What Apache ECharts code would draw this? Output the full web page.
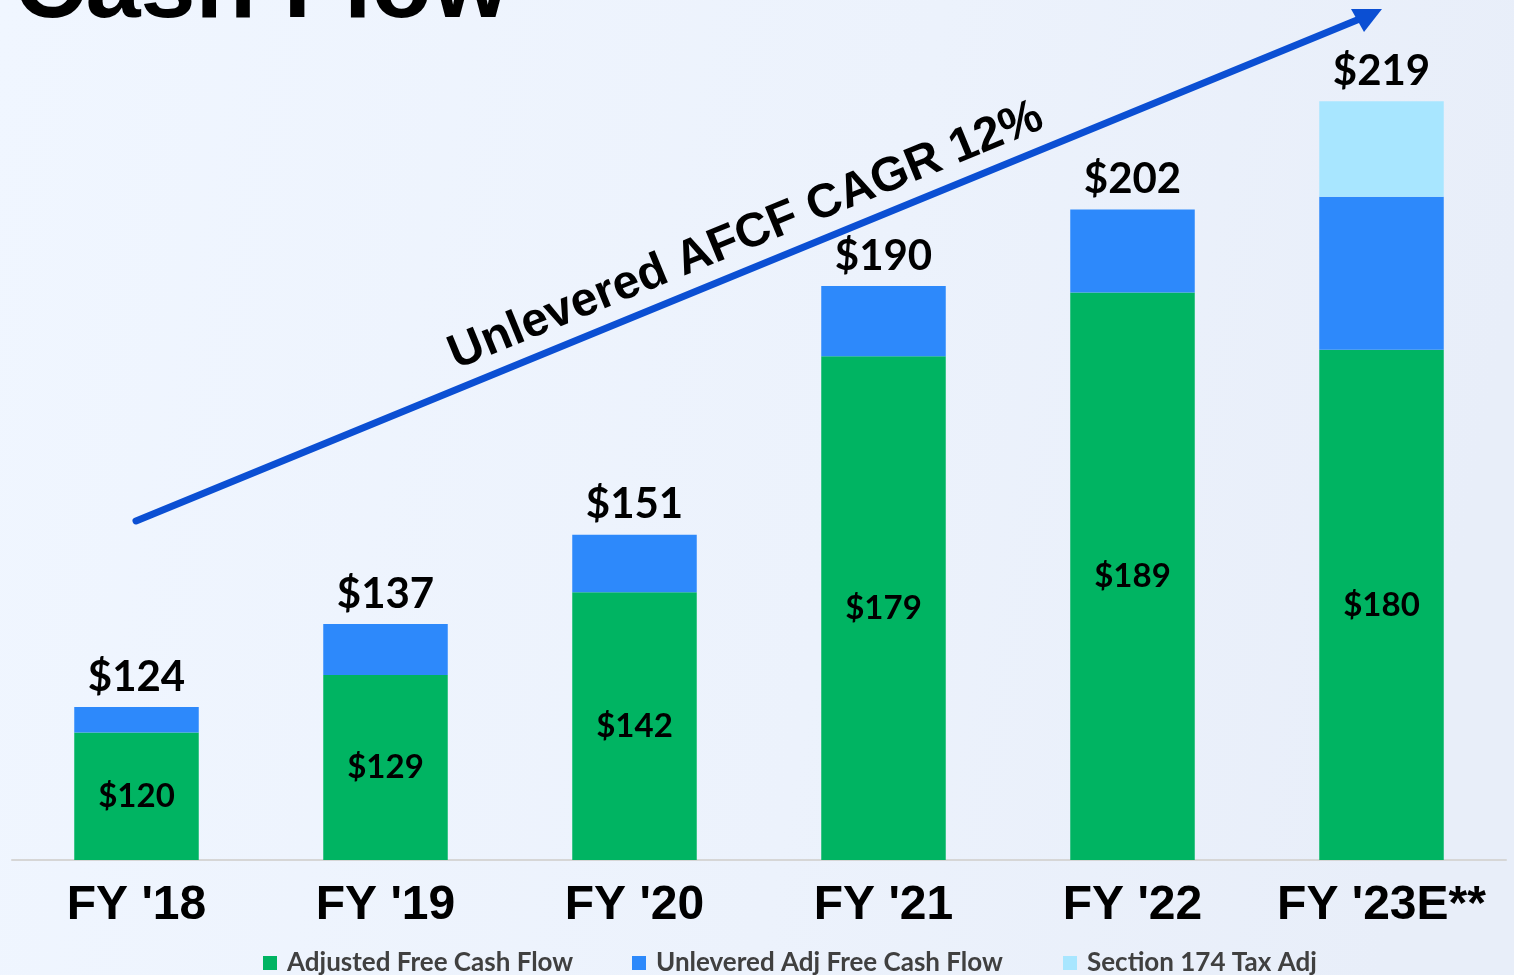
<!DOCTYPE html>
<html>
<head>
<meta charset="utf-8">
<script src="https://cdn.jsdelivr.net/npm/echarts@6/dist/echarts.min.js"></script>
<style>
html,body{margin:0;padding:0;}
#c{width:1514px;height:975px;}
</style>
</head>
<body>
<div id="c"></div>
<script>
const categories = ["FY '18", "FY '19", "FY '20", "FY '21", "FY '22", "FY '23E**"];
const adjustedFCF = [120, 129, 142, 179, 189, 180];
const unleveredIncrement = [4, 8, 9, 11, 13, 24];
const section174 = [0, 0, 0, 0, 0, 15];
const totals = [124, 137, 151, 190, 202, 219];
const seriesNames = ["Adjusted Free Cash Flow", "Unlevered Adj Free Cash Flow", "Section 174 Tax Adj"];

const chart = echarts.init(document.getElementById('c'));
const labelFont = 'Lato, "Open Sans", sans-serif';
const legendBase = {
  icon: 'rect', itemWidth: 14, itemHeight: 14, top: 950, padding: 0,
  textStyle: {fontFamily: labelFont, fontSize: 26, fontWeight: 'bold', color: '#404040', padding: [0,0,0,5]}
};
chart.setOption({
  backgroundColor: {
    type: 'linear', x: 0, y: 0, x2: 1, y2: 0.3,
    colorStops: [{offset: 0, color: '#F0F6FF'}, {offset: 0.6, color: '#ECF2FC'}, {offset: 1, color: '#E8EEF9'}]
  },
  animation: false,
  grid: {left: 12, right: 8, top: 31, bottom: 115, containLabel: false},
  xAxis: {
    type: 'category', data: categories,
    axisLine: {lineStyle: {color: '#D6D6D6', width: 2}},
    axisTick: {show: false},
    axisLabel: {interval: 0, fontFamily: '"Liberation Sans", Arial, sans-serif', fontWeight: 'bold', fontSize: 48, color: '#000', margin: 22}
  },
  yAxis: {type: 'value', min: 100, max: 230, show: false, splitLine: {show: false}},
  legend: [
    Object.assign({}, legendBase, {left: 263, data: [seriesNames[0]]}),
    Object.assign({}, legendBase, {left: 632, data: [seriesNames[1]]}),
    Object.assign({}, legendBase, {left: 1063, data: [seriesNames[2]]})
  ],
  series: [
    {
      name: seriesNames[0], type: 'bar', stack: 'a', data: adjustedFCF, barWidth: '50%',
      itemStyle: {color: '#00B462'},
      label: {show: true, position: 'inside', formatter: p => '$' + p.value,
        fontFamily: labelFont, fontWeight: 'bold', fontSize: 33, color: '#000'}
    },
    {
      name: seriesNames[1], type: 'bar', stack: 'a', data: unleveredIncrement,
      itemStyle: {color: '#2D89FB'}
    },
    {
      name: seriesNames[2], type: 'bar', stack: 'a', data: section174,
      itemStyle: {color: '#A8E6FF'},
      label: {show: true, position: 'top', distance: 9, formatter: p => '$' + totals[p.dataIndex],
        fontFamily: labelFont, fontWeight: 'bold', fontSize: 42, color: '#000'}
    }
  ],
  graphic: [
    {type: 'text', left: 14, top: -60, style: {text: 'Cash Flow', font: 'bold 99px "Liberation Sans", Arial, sans-serif', fill: '#000'}},
    {type: 'line', shape: {x1: 136, y1: 521, x2: 1362, y2: 18}, style: {stroke: '#0B4FD3', lineWidth: 7, lineCap: 'round'}},
    {type: 'polygon', shape: {points: [[1382, 9], [1351, 9], [1364, 32]]}, style: {fill: '#0B4FD3'}},
    {type: 'text', x: 746, y: 236, rotation: 22.3 * Math.PI / 180,
      style: {text: 'Unlevered AFCF CAGR 12%', font: 'bold 48px "Liberation Sans", Arial, sans-serif', fill: '#000', align: 'center', verticalAlign: 'middle'}}
  ]
});
</script>
</body>
</html>
